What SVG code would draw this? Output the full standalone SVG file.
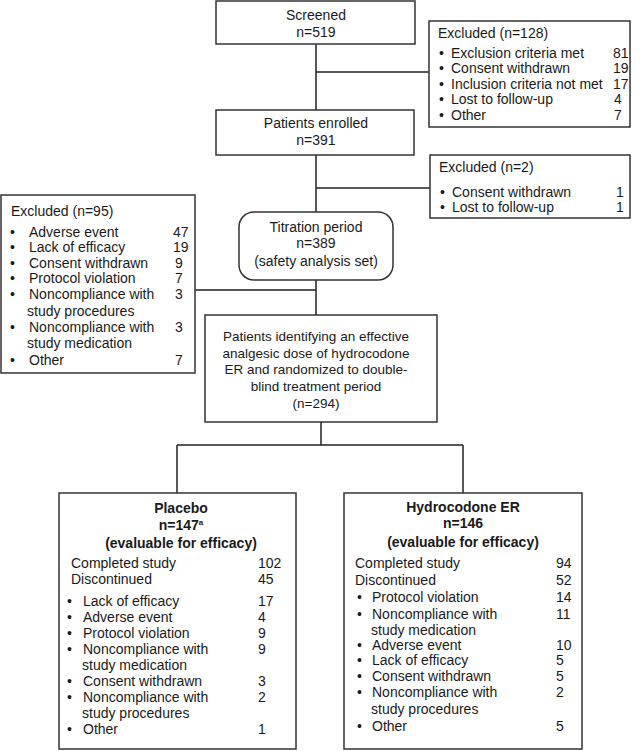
<svg xmlns="http://www.w3.org/2000/svg" width="640" height="751" viewBox="0 0 640 751">
<style>
.b{fill:#fff;stroke:#333;stroke-width:1.5}
.l{fill:none;stroke:#222;stroke-width:1.5}
text{font-family:"Liberation Sans",Arial,sans-serif;font-size:14px;fill:#1a1a1a}
.c{text-anchor:middle}
.h{font-weight:bold}
.s{font-size:13.5px}
</style>
<rect width="640" height="751" fill="#fff"/>
<g id="connectors">
<path class="l" d="M316 44V110M316 72H429M316 155V212M316 188H430M316 280V315M195 290H316M321 422V445M177 445H463M177 445V493M463 445V493"/>
</g>
<g id="screened">
<rect class="b" x="216" y="1" width="199" height="43"/>
<text class="c" x="316" y="20">Screened</text>
<text class="c" x="316" y="37">n=519</text>
</g>
<g id="excluded128">
<rect class="b" x="429" y="21" width="201" height="106"/>
<text x="438" y="38">Excluded (n=128)</text>
<text x="439" y="58">•</text><text x="451" y="58">Exclusion criteria met</text><text x="613" y="58">81</text>
<text x="439" y="73">•</text><text x="451" y="73">Consent withdrawn</text><text x="613" y="73">19</text>
<text x="439" y="89">•</text><text x="451" y="89">Inclusion criteria not met</text><text x="613" y="89">17</text>
<text x="439" y="104">•</text><text x="451" y="104">Lost to follow-up</text><text x="614" y="104">4</text>
<text x="439" y="120">•</text><text x="451" y="120">Other</text><text x="614" y="120">7</text>
</g>
<g id="enrolled">
<rect class="b" x="216" y="110" width="198" height="45"/>
<text class="c" x="316" y="128">Patients enrolled</text>
<text class="c" x="316" y="145">n=391</text>
</g>
<g id="excluded2">
<rect class="b" x="430" y="155" width="200" height="63"/>
<text x="439" y="172">Excluded (n=2)</text>
<text x="440" y="197">•</text><text x="452" y="197">Consent withdrawn</text><text x="616" y="197">1</text>
<text x="440" y="212">•</text><text x="452" y="212">Lost to follow-up</text><text x="616" y="212">1</text>
</g>
<g id="excluded95">
<rect class="b" x="1" y="195" width="194" height="178"/>
<text x="11" y="216">Excluded (n=95)</text>
<text x="10" y="237">•</text><text x="29" y="237">Adverse event</text><text x="173" y="237">47</text>
<text x="10" y="252">•</text><text x="29" y="252">Lack of efficacy</text><text x="173" y="252">19</text>
<text x="10" y="268">•</text><text x="29" y="268">Consent withdrawn</text><text x="175" y="268">9</text>
<text x="10" y="283">•</text><text x="29" y="283">Protocol violation</text><text x="175" y="283">7</text>
<text x="10" y="299">•</text><text x="29" y="299">Noncompliance with</text><text x="175" y="299">3</text>
<text x="27" y="316">study procedures</text>
<text x="10" y="332">•</text><text x="29" y="332">Noncompliance with</text><text x="175" y="332">3</text>
<text x="27" y="348">study medication</text>
<text x="10" y="365">•</text><text x="29" y="365">Other</text><text x="175" y="365">7</text>
</g>
<g id="titration">
<rect class="b" x="239" y="212" width="154" height="68" rx="15"/>
<text class="c" x="316" y="232">Titration period</text>
<text class="c" x="316" y="248">n=389</text>
<text class="c" x="316" y="266">(safety analysis set)</text>
</g>
<g id="randomized">
<rect class="b" x="205" y="315" width="232" height="107"/>
<text class="c s" x="316" y="341">Patients identifying an effective</text>
<text class="c s" x="316" y="358">analgesic dose of hydrocodone</text>
<text class="c s" x="316" y="374">ER and randomized to double-</text>
<text class="c s" x="316" y="391">blind treatment period</text>
<text class="c s" x="316" y="408">(n=294)</text>
</g>
<g id="placebo">
<rect class="b" x="59" y="493" width="237" height="256"/>
<text class="c h" x="181" y="513">Placebo</text>
<text class="c h" x="181" y="530">n=147<tspan font-size="8" dy="-5">a</tspan></text>
<text class="c h" x="181" y="548">(evaluable for efficacy)</text>
<text x="71" y="568">Completed study</text><text x="258" y="568">102</text>
<text x="71" y="584">Discontinued</text><text x="258" y="584">45</text>
<text x="67" y="606">•</text><text x="83" y="606">Lack of efficacy</text><text x="258" y="606">17</text>
<text x="67" y="622">•</text><text x="83" y="622">Adverse event</text><text x="258" y="622">4</text>
<text x="67" y="638">•</text><text x="83" y="638">Protocol violation</text><text x="258" y="638">9</text>
<text x="67" y="654">•</text><text x="83" y="654">Noncompliance with</text><text x="258" y="654">9</text>
<text x="82" y="670">study medication</text>
<text x="67" y="686">•</text><text x="83" y="686">Consent withdrawn</text><text x="258" y="686">3</text>
<text x="67" y="702">•</text><text x="83" y="702">Noncompliance with</text><text x="258" y="702">2</text>
<text x="82" y="718">study procedures</text>
<text x="67" y="734">•</text><text x="83" y="734">Other</text><text x="258" y="734">1</text>
</g>
<g id="hydrocodone">
<rect class="b" x="344" y="493" width="238" height="256"/>
<text class="c h" x="463" y="512">Hydrocodone ER</text>
<text class="c h" x="463" y="528">n=146</text>
<text class="c h" x="463" y="547">(evaluable for efficacy)</text>
<text x="355" y="568">Completed study</text><text x="556" y="568">94</text>
<text x="355" y="585">Discontinued</text><text x="556" y="585">52</text>
<text x="357" y="602">•</text><text x="372" y="602">Protocol violation</text><text x="556" y="602">14</text>
<text x="357" y="619">•</text><text x="372" y="619">Noncompliance with</text><text x="556" y="619">11</text>
<text x="371" y="635">study medication</text>
<text x="357" y="650">•</text><text x="372" y="650">Adverse event</text><text x="556" y="650">10</text>
<text x="357" y="665">•</text><text x="372" y="665">Lack of efficacy</text><text x="556" y="665">5</text>
<text x="357" y="681">•</text><text x="372" y="681">Consent withdrawn</text><text x="556" y="681">5</text>
<text x="357" y="697">•</text><text x="372" y="697">Noncompliance with</text><text x="556" y="697">2</text>
<text x="371" y="714">study procedures</text>
<text x="357" y="731">•</text><text x="372" y="731">Other</text><text x="556" y="731">5</text>
</g>
</svg>
